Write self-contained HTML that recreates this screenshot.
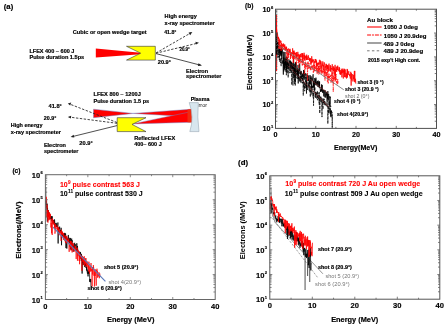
<!DOCTYPE html>
<html><head><meta charset="utf-8"><style>
html,body{margin:0;padding:0;background:#fff;width:445px;height:326px;overflow:hidden}
svg{display:block;will-change:transform}
text{font-family:"Liberation Sans",sans-serif}
</style></head><body>
<svg width="445" height="326" viewBox="0 0 445 326">
<rect width="445" height="326" fill="#fff"/>
<text x="3.8" y="9" font-size="7.5" font-weight="bold" fill="#000" text-anchor="start" textLength="9.4" lengthAdjust="spacingAndGlyphs" stroke="#000" stroke-width="0.18">(a)</text>
<polygon points="95.8,48.6 140.5,52.7 140.5,54.2 95.8,57.5" fill="#ff0000"/>
<polygon points="126.5,46.3 155.3,46.3 155.3,60.1 126.5,60.1 140.7,53.2" fill="#ffff00" stroke="#333" stroke-width="0.6"/>
<line x1="156" y1="53" x2="191" y2="32.8" stroke="#222" stroke-width="0.85" stroke-dasharray="2.4,1.5"/>
<polygon points="192.3,32.1 188.6,32.6 190.2,35.2" fill="#222"/>
<line x1="156" y1="53.2" x2="197.5" y2="43.2" stroke="#222" stroke-width="0.85" stroke-dasharray="2.4,1.5"/>
<polygon points="199,42.8 195.4,41.8 196,44.6" fill="#222"/>
<line x1="156" y1="53.6" x2="200.5" y2="65.2" stroke="#222" stroke-width="0.8"/>
<polygon points="202,65.6 198.5,63.3 197.8,66.1" fill="#222"/>
<text x="72.8" y="34.2" font-size="5.9" font-weight="bold" fill="#000" text-anchor="start" textLength="73.9" lengthAdjust="spacingAndGlyphs" stroke="#000" stroke-width="0.18">Cubic or open wedge target</text>
<text x="164.6" y="18.1" font-size="5.9" font-weight="bold" fill="#000" text-anchor="start" textLength="32.3" lengthAdjust="spacingAndGlyphs" stroke="#000" stroke-width="0.18">High energy</text>
<text x="164.6" y="24.6" font-size="5.9" font-weight="bold" fill="#000" text-anchor="start" textLength="50.1" lengthAdjust="spacingAndGlyphs" stroke="#000" stroke-width="0.18">x-ray spectrometer</text>
<text x="164.2" y="34.4" font-size="5.9" font-weight="bold" fill="#000" text-anchor="start" textLength="12.2" lengthAdjust="spacingAndGlyphs" stroke="#000" stroke-width="0.18">41.8°</text>
<text x="179.4" y="51.2" font-size="5.9" font-weight="bold" fill="#000" text-anchor="start" textLength="10.5" lengthAdjust="spacingAndGlyphs" stroke="#000" stroke-width="0.18">20.9°</text>
<text x="29.4" y="52.5" font-size="5.9" font-weight="bold" fill="#000" text-anchor="start" textLength="45" lengthAdjust="spacingAndGlyphs" stroke="#000" stroke-width="0.18">LFEX 400 ~ 600 J</text>
<text x="29.4" y="58.6" font-size="5.9" font-weight="bold" fill="#000" text-anchor="start" textLength="54.8" lengthAdjust="spacingAndGlyphs" stroke="#000" stroke-width="0.18">Pulse duration 1.5ps</text>
<text x="157.8" y="64.1" font-size="5.9" font-weight="bold" fill="#000" text-anchor="start" textLength="13.2" lengthAdjust="spacingAndGlyphs" stroke="#000" stroke-width="0.18">20.9°</text>
<text x="186.1" y="72.5" font-size="5.9" font-weight="bold" fill="#000" text-anchor="start" textLength="22" lengthAdjust="spacingAndGlyphs" stroke="#000" stroke-width="0.18">Electron</text>
<text x="186.1" y="78.4" font-size="5.9" font-weight="bold" fill="#000" text-anchor="start" textLength="35.4" lengthAdjust="spacingAndGlyphs" stroke="#000" stroke-width="0.18">spectrometer</text>
<text x="192.6" y="107" font-size="5.6" fill="#222" text-anchor="start">mirror</text>
<polygon points="93.5,109.2 133,113.4 93.5,117.7" fill="#ff0000" stroke="#6f7fc8" stroke-width="0.45"/>
<polygon points="133,113.4 190.5,109.3 190.5,116.8" fill="#ff0000" stroke="#6f7fc8" stroke-width="0.45"/>
<polygon points="132.6,123.9 190.5,111.8 190.5,122.3" fill="#ff0000" stroke="#6f7fc8" stroke-width="0.45"/>
<polygon points="187.5,109.5 191.5,109 192,122.5 187.5,122.3" fill="#f02a10"/>
<path d="M189.2,102.6 L198.3,102.6 Q197,117 199,131.6 L189.8,131.6 Q194.5,117 189.2,102.6 Z" fill="#d8e6ee" stroke="#8a9aa8" stroke-width="0.5"/>
<polygon points="117.2,117.7 146,117.7 132,124.4 146,131.6 117.2,131.6" fill="#ffff00" stroke="#333" stroke-width="0.6"/>
<line x1="117" y1="122.5" x2="69.5" y2="104" stroke="#222" stroke-width="0.85" stroke-dasharray="2.4,1.5"/>
<polygon points="67.8,103.4 71.2,102.6 70.2,105.4" fill="#222"/>
<line x1="117" y1="123.3" x2="69.5" y2="117.1" stroke="#222" stroke-width="0.85" stroke-dasharray="2.4,1.5"/>
<polygon points="67.8,116.9 71.2,115.7 70.9,118.5" fill="#222"/>
<line x1="117" y1="125.6" x2="72" y2="136.7" stroke="#222" stroke-width="0.8"/>
<polygon points="70.6,137.1 73.6,134.8 74.3,137.6" fill="#222"/>
<text x="93.5" y="96.2" font-size="5.9" font-weight="bold" fill="#000" text-anchor="start" textLength="47.3" lengthAdjust="spacingAndGlyphs" stroke="#000" stroke-width="0.18">LFEX 800 ~ 1200J</text>
<text x="93.5" y="103" font-size="5.9" font-weight="bold" fill="#000" text-anchor="start" textLength="55.7" lengthAdjust="spacingAndGlyphs" stroke="#000" stroke-width="0.18">Pulse duration 1.5 ps</text>
<text x="190.8" y="100.7" font-size="5.9" font-weight="bold" fill="#000" text-anchor="start" textLength="18.7" lengthAdjust="spacingAndGlyphs" stroke="#000" stroke-width="0.18">Plasma</text>
<text x="48.5" y="107.6" font-size="5.9" font-weight="bold" fill="#000" text-anchor="start" textLength="13.3" lengthAdjust="spacingAndGlyphs" stroke="#000" stroke-width="0.18">41.8°</text>
<text x="43.7" y="120.2" font-size="5.9" font-weight="bold" fill="#000" text-anchor="start" textLength="12.6" lengthAdjust="spacingAndGlyphs" stroke="#000" stroke-width="0.18">20.9°</text>
<text x="10.7" y="127.2" font-size="5.9" font-weight="bold" fill="#000" text-anchor="start" textLength="31.8" lengthAdjust="spacingAndGlyphs" stroke="#000" stroke-width="0.18">High energy</text>
<text x="10.7" y="133.5" font-size="5.9" font-weight="bold" fill="#000" text-anchor="start" textLength="50.3" lengthAdjust="spacingAndGlyphs" stroke="#000" stroke-width="0.18">x-ray spectrometer</text>
<text x="43.9" y="146.7" font-size="5.9" font-weight="bold" fill="#000" text-anchor="start" textLength="22.1" lengthAdjust="spacingAndGlyphs" stroke="#000" stroke-width="0.18">Electron</text>
<text x="43.9" y="152.5" font-size="5.9" font-weight="bold" fill="#000" text-anchor="start" textLength="34.6" lengthAdjust="spacingAndGlyphs" stroke="#000" stroke-width="0.18">spectrometer</text>
<text x="79.3" y="145.4" font-size="5.9" font-weight="bold" fill="#000" text-anchor="start" textLength="13.4" lengthAdjust="spacingAndGlyphs" stroke="#000" stroke-width="0.18">20.9°</text>
<text x="134.2" y="139.7" font-size="5.9" font-weight="bold" fill="#000" text-anchor="start" textLength="41" lengthAdjust="spacingAndGlyphs" stroke="#000" stroke-width="0.18">Reflected LFEX</text>
<text x="134.2" y="146.2" font-size="5.9" font-weight="bold" fill="#000" text-anchor="start" textLength="27.5" lengthAdjust="spacingAndGlyphs" stroke="#000" stroke-width="0.18">400~ 600 J</text>
<text x="245" y="8.3" font-size="7.3" font-weight="bold" fill="#000" text-anchor="start" textLength="8.4" lengthAdjust="spacingAndGlyphs" stroke="#000" stroke-width="0.18">(b)</text>
<line x1="276.6" y1="14.921600000000012" x2="276.6" y2="71.184" stroke="#ff0000" stroke-width="1"/>
<polyline points="275.90,44.83 276.10,44.71 276.31,44.47 276.51,47.26 276.71,49.52 276.91,52.50 277.11,50.21 277.31,50.17 277.51,49.38 277.71,57.58 277.92,54.82 278.12,49.75 278.32,53.42 278.52,55.86 278.72,57.48 278.92,56.20 279.12,51.01 279.32,59.77 279.52,54.47 279.73,60.64 279.93,62.23 280.13,59.54 280.33,58.15 280.53,62.70 280.73,61.68 280.93,61.89 281.13,66.14 281.34,51.57 281.54,59.35 281.74,56.62 281.94,61.05 282.14,63.90 282.34,60.47 282.54,60.88 282.75,63.43 282.95,63.41 283.15,62.97 283.35,62.03 283.55,57.60 283.75,71.56 283.95,57.57 284.15,64.12 284.36,67.32 284.56,67.27 284.76,65.10 284.96,63.13 285.16,70.48 285.36,63.70 285.56,65.92 285.76,62.48 285.96,71.78 286.17,63.82 286.37,75.20 286.57,66.73 286.77,63.75 286.97,65.54 287.17,73.43 287.37,60.92 287.57,66.77 287.78,65.78 287.98,61.93 288.18,77.55 288.38,66.71 288.58,64.89 288.78,66.57 288.98,66.62 289.19,64.46 289.39,67.98 289.59,66.69 289.79,73.15 289.99,66.86 290.19,62.47 290.39,71.13 290.59,65.10 290.79,67.67 291.00,72.86 291.20,70.38 291.40,62.80 291.60,62.18 291.80,84.94 292.00,64.69 292.20,64.70 292.40,68.57 292.61,67.13 292.81,82.76 293.01,85.43 293.21,67.33 293.41,67.98 293.61,77.99 293.81,74.13 294.01,75.51 294.22,66.82 294.42,83.87 294.62,73.05 294.82,70.32 295.02,76.51 295.22,85.86 295.42,77.46 295.62,70.57 295.83,72.13 296.03,75.16 296.23,72.41 296.43,73.44 296.63,74.04 296.83,78.39 297.03,75.55 297.23,69.65 297.44,73.08 297.64,74.21 297.84,78.86 298.04,74.92 298.24,77.85 298.44,78.72 298.64,73.58 298.84,74.39 299.05,77.17 299.25,78.23 299.45,81.15 299.65,76.18 299.85,80.45 300.05,81.53 300.25,81.81 300.45,75.72 300.66,80.70 300.86,75.43 301.06,83.34 301.26,76.14 301.46,75.60 301.66,79.06 301.86,79.18 302.06,77.41 302.27,74.54 302.47,83.30 302.67,77.47 302.87,79.37 303.07,82.13 303.27,95.61 303.47,81.15 303.67,80.22 303.88,87.53 304.08,85.53 304.28,84.44 304.48,82.29 304.68,91.16 304.88,85.55 305.08,88.01 305.28,85.96 305.49,77.13 305.69,80.20 305.89,87.18 306.09,86.49 306.29,80.82 306.49,87.42 306.69,83.25 306.89,85.73 307.10,85.24 307.30,87.20 307.50,89.93 307.70,87.41 307.90,87.59 308.10,79.59 308.30,87.28 308.50,84.94 308.71,85.86 308.91,83.17 309.11,90.93 309.31,90.07 309.51,80.81 309.71,89.84 309.91,91.93 310.11,90.40 310.32,96.87 310.52,88.22 310.72,88.46 310.92,85.71 311.12,92.70 311.32,83.76 311.52,91.92 311.72,91.98 311.93,95.12 312.13,87.28 312.33,85.94 312.53,87.96 312.73,85.78 312.93,94.03 313.13,97.30 313.33,92.55 313.54,105.68 313.74,91.26 313.94,91.02 314.14,92.26 314.34,89.00 314.54,90.82 314.74,88.00 314.95,87.11 315.15,97.19 315.35,91.86 315.55,97.70 315.75,92.09 315.95,95.94 316.15,95.44 316.35,95.46 316.56,92.30 316.76,98.92 316.96,97.56 317.16,97.77 317.36,90.95 317.56,100.18 317.76,99.39 317.96,98.91 318.17,92.52 318.37,94.60 318.57,99.12 318.77,98.76 318.97,96.28 319.17,104.46 319.37,92.27 319.57,111.82 319.78,113.28 319.98,110.99 320.18,97.04 320.38,96.73 320.58,98.20 320.78,101.84 320.98,96.53 321.18,99.18 321.39,98.37 321.59,102.25 321.79,101.41 321.99,117.09 322.19,98.62 322.39,102.12 322.59,105.43 322.79,105.77 323.00,109.12 323.20,98.21 323.40,100.72 323.60,103.20 323.80,100.71 324.00,102.95 324.20,98.80 324.40,105.11 324.61,101.31 324.81,101.81 325.01,102.72 325.21,102.10 325.41,101.76 325.61,105.00 325.81,103.73 326.01,105.66 326.22,105.34 326.42,106.13 326.62,105.41 326.82,105.06 327.02,101.86 327.22,106.74 327.42,105.49 327.62,104.82 327.83,123.79 328.03,115.16 328.23,110.58 328.43,113.18 328.63,106.04 328.83,105.99 329.03,112.34 329.23,105.48 329.44,107.99 329.64,109.65 329.84,112.24 330.04,111.68 330.24,114.30 330.44,107.79 330.64,116.88 330.84,111.61 331.05,110.21 331.25,117.33 331.45,110.64 331.65,112.87 331.85,111.97 332.05,111.93 332.25,128.42 332.45,114.39" fill="none" stroke="#000" stroke-width="0.7" stroke-dasharray="3,0.8"/>
<polyline points="275.90,39.74 276.10,36.68 276.31,54.62 276.51,42.39 276.71,41.09 276.91,32.72 277.11,48.06 277.31,43.83 277.51,42.73 277.71,48.85 277.92,42.06 278.12,45.28 278.32,41.69 278.52,47.04 278.72,45.15 278.92,52.54 279.12,48.56 279.32,53.27 279.52,49.16 279.73,50.03 279.93,55.46 280.13,50.12 280.33,54.30 280.53,50.54 280.73,48.88 280.93,55.71 281.13,48.74 281.34,53.93 281.54,47.42 281.74,55.76 281.94,53.17 282.14,49.22 282.34,49.60 282.54,53.15 282.75,54.82 282.95,59.15 283.15,66.32 283.35,74.61 283.55,60.16 283.75,51.77 283.95,65.48 284.15,64.65 284.36,61.84 284.56,69.30 284.76,61.95 284.96,52.00 285.16,63.03 285.36,58.63 285.56,63.74 285.76,61.45 285.96,64.54 286.17,58.14 286.37,56.65 286.57,69.79 286.77,61.25 286.97,61.17 287.17,56.98 287.37,59.59 287.57,64.28 287.78,62.99 287.98,65.26 288.18,68.97 288.38,64.29 288.58,63.68 288.78,65.18 288.98,59.45 289.19,62.57 289.39,63.55 289.59,63.81 289.79,61.12 289.99,62.05 290.19,60.43 290.39,64.87 290.59,61.30 290.79,62.82 291.00,65.63 291.20,61.76 291.40,66.72 291.60,66.62 291.80,65.17 292.00,63.95 292.20,62.84 292.40,64.30 292.61,68.13 292.81,64.95 293.01,68.15 293.21,68.73 293.41,64.57 293.61,58.85 293.81,66.22 294.01,73.55 294.22,63.72 294.42,67.09 294.62,72.99 294.82,67.94 295.02,75.05 295.22,82.27 295.42,62.25 295.62,62.05 295.83,71.11 296.03,63.13 296.23,67.98 296.43,70.53 296.63,71.96 296.83,71.05 297.03,70.89 297.23,74.58 297.44,68.61 297.64,75.12 297.84,70.94 298.04,64.93 298.24,83.45 298.44,69.56 298.64,71.12 298.84,73.73 299.05,71.25 299.25,69.82 299.45,71.01 299.65,63.54 299.85,67.84 300.05,74.20 300.25,71.70 300.45,74.31 300.66,75.26 300.86,72.89 301.06,70.89 301.26,73.38 301.46,71.75 301.66,77.06 301.86,76.24 302.06,75.45 302.27,75.55 302.47,74.35 302.67,76.66 302.87,73.61 303.07,78.87 303.27,79.74 303.47,71.34 303.67,69.97 303.88,77.80 304.08,70.62 304.28,70.87 304.48,73.79 304.68,79.59 304.88,78.16 305.08,72.98 305.28,74.33 305.49,75.42 305.69,75.66 305.89,75.50 306.09,73.69 306.29,80.28 306.49,93.55 306.69,79.39 306.89,77.23 307.10,78.50 307.30,74.68 307.50,76.35 307.70,77.44 307.90,75.75 308.10,77.79 308.30,81.12 308.50,80.08 308.71,75.73 308.91,75.34 309.11,79.19 309.31,80.70 309.51,83.82 309.71,83.56 309.91,78.84 310.11,75.21 310.32,76.69 310.52,84.39 310.72,78.20 310.92,78.79 311.12,76.34 311.32,83.18 311.52,87.72 311.72,85.91 311.93,77.72 312.13,80.88 312.33,80.51 312.53,79.94 312.73,78.88 312.93,75.70 313.13,74.28 313.33,87.67 313.54,80.89 313.74,87.13 313.94,81.78 314.14,83.32 314.34,90.49 314.54,82.34 314.74,78.05 314.95,81.70 315.15,85.09 315.35,81.54 315.55,79.08 315.75,83.90 315.95,77.65 316.15,84.17 316.35,85.45 316.56,85.05 316.76,81.63 316.96,81.80 317.16,84.62 317.36,83.87 317.56,81.06 317.76,86.69 317.96,85.77 318.17,80.57 318.37,81.43 318.57,82.99 318.77,87.02 318.97,87.40 319.17,81.77 319.37,86.89 319.57,81.36 319.78,88.16 319.98,87.25 320.18,88.07 320.38,91.94 320.58,90.26 320.78,91.29 320.98,88.95 321.18,89.60 321.39,90.94 321.59,84.43 321.79,91.03 321.99,91.94 322.19,84.96 322.39,87.61 322.59,90.08 322.79,93.04 323.00,89.71 323.20,91.23 323.40,90.46 323.60,93.91 323.80,96.41 324.00,92.87 324.20,89.85 324.40,90.36 324.61,91.28 324.81,97.32 325.01,97.07 325.21,90.36 325.41,94.64 325.61,94.41 325.81,97.68 326.01,94.69 326.22,94.11 326.42,95.29 326.62,91.91 326.82,96.03 327.02,101.03 327.22,101.96 327.42,93.62 327.62,98.91 327.83,91.12 328.03,96.62 328.23,100.38 328.43,97.76 328.63,93.96 328.83,96.94 329.03,105.23 329.23,101.49 329.44,105.66 329.64,103.22 329.84,96.09 330.04,98.13 330.24,97.11 330.44,104.30 330.64,106.99 330.84,105.94" fill="none" stroke="#000" stroke-width="0.75"/>
<line x1="284.999" y1="59.74080000000001" x2="327.825" y2="93.11680000000001" stroke="#a02828" stroke-width="0.5"/>
<line x1="287.9775" y1="65.70080000000002" x2="328.63" y2="106.7056" stroke="#a02828" stroke-width="0.5"/>
<polyline points="275.90,20.13 276.10,26.85 276.31,27.06 276.51,32.70 276.71,34.62 276.91,35.03 277.11,35.87 277.31,34.65 277.51,34.25 277.71,37.35 277.92,37.16 278.12,38.18 278.32,41.33 278.52,37.55 278.72,40.46 278.92,40.90 279.12,47.57 279.32,43.09 279.52,41.30 279.73,45.94 279.93,44.74 280.13,47.90 280.33,44.42 280.53,45.73 280.73,47.58 280.93,45.40 281.13,49.06 281.34,46.24 281.54,44.96 281.74,47.65 281.94,47.08 282.14,48.81 282.34,47.44 282.54,48.25 282.75,46.29 282.95,48.43 283.15,49.86 283.35,48.09 283.55,48.65 283.75,47.34 283.95,49.06 284.15,49.23 284.36,48.02 284.56,49.73 284.76,50.09 284.96,50.61 285.16,48.03 285.36,48.56 285.56,49.16 285.76,46.75 285.96,48.78 286.17,50.25 286.37,58.70 286.57,55.97 286.77,50.72 286.97,52.26 287.17,51.88 287.37,51.32 287.57,50.25 287.78,51.65 287.98,60.02 288.18,51.32 288.38,52.82 288.58,56.66 288.78,53.50 288.98,55.10 289.19,53.64 289.39,52.69 289.59,51.95 289.79,52.07 289.99,51.10 290.19,50.43 290.39,54.59 290.59,54.23 290.79,54.07 291.00,54.49 291.20,56.28 291.40,56.61 291.60,53.66 291.80,55.22 292.00,57.55 292.20,56.89 292.40,55.64 292.61,58.76 292.81,56.60 293.01,55.42 293.21,55.06 293.41,55.46 293.61,58.50 293.81,56.73 294.01,55.57 294.22,52.50 294.42,59.01 294.62,55.99 294.82,59.21 295.02,56.01 295.22,56.72 295.42,59.30 295.62,58.89 295.83,58.80 296.03,54.78 296.23,57.61 296.43,65.53 296.63,60.83 296.83,59.77 297.03,58.37 297.23,59.05 297.44,56.79 297.64,58.83 297.84,60.37 298.04,62.55 298.24,58.45 298.44,58.76 298.64,58.92 298.84,67.54 299.05,60.59 299.25,60.31 299.45,62.50 299.65,59.64 299.85,61.91 300.05,56.67 300.25,61.64 300.45,61.12 300.66,59.28 300.86,63.88 301.06,59.60 301.26,60.77 301.46,62.20 301.66,60.05 301.86,59.73 302.06,56.43 302.27,65.88 302.47,62.41 302.67,60.52 302.87,64.73 303.07,61.30 303.27,58.86 303.47,63.76 303.67,63.09 303.88,64.55 304.08,63.64 304.28,65.32 304.48,64.37 304.68,74.37 304.88,62.41 305.08,64.58 305.28,66.70 305.49,61.74 305.69,69.74 305.89,62.96 306.09,66.24 306.29,67.51 306.49,66.01 306.69,66.03 306.89,64.72 307.10,64.85 307.30,62.12 307.50,80.84 307.70,65.29 307.90,68.21 308.10,61.51 308.30,62.56 308.50,65.38 308.71,68.57 308.91,63.30 309.11,63.01 309.31,68.15 309.51,66.86 309.71,65.68 309.91,65.87 310.11,68.29 310.32,69.61 310.52,67.24 310.72,70.20 310.92,66.40 311.12,68.08 311.32,69.72 311.52,64.62 311.72,65.85 311.93,65.81 312.13,67.13 312.33,66.78 312.53,69.33 312.73,64.98 312.93,65.93 313.13,69.11 313.33,73.12 313.54,69.08 313.74,69.05 313.94,64.42 314.14,71.87 314.34,65.03 314.54,70.68 314.74,66.29 314.95,69.95 315.15,70.12 315.35,68.37 315.55,66.61 315.75,67.73 315.95,71.22 316.15,66.40 316.35,67.70 316.56,70.62 316.76,63.82 316.96,73.25 317.16,74.15 317.36,69.38 317.56,67.87 317.76,72.65 317.96,66.02 318.17,71.70 318.37,71.99 318.57,65.59 318.77,74.42 318.97,65.98 319.17,71.74 319.37,66.21 319.57,72.30 319.78,73.52 319.98,73.53 320.18,67.61 320.38,64.68 320.58,69.55 320.78,72.14 320.98,68.58 321.18,70.76 321.39,67.80 321.59,74.56 321.79,71.04 321.99,66.27 322.19,72.70 322.39,72.98 322.59,70.55 322.79,71.05 323.00,73.91 323.20,71.07 323.40,71.95 323.60,68.37 323.80,72.26 324.00,73.50 324.20,77.10 324.40,70.56 324.61,71.32 324.81,75.08 325.01,80.88 325.21,66.97 325.41,75.08 325.61,75.07 325.81,76.53 326.01,75.46 326.22,71.91 326.42,76.48 326.62,72.52 326.82,73.57 327.02,69.96 327.22,75.90 327.42,81.89 327.62,69.40 327.83,73.72 328.03,73.12 328.23,83.79 328.43,75.60 328.63,78.75 328.83,74.59 329.03,73.27 329.23,74.50 329.44,79.89 329.64,76.12 329.84,77.18 330.04,75.59 330.24,75.54 330.44,74.91 330.64,80.34 330.84,80.33 331.05,83.06 331.25,76.62 331.45,74.63 331.65,80.48 331.85,77.60 332.05,73.59 332.25,75.17 332.45,82.39 332.66,78.20 332.86,71.96 333.06,78.68 333.26,92.07 333.46,76.87 333.66,75.61 333.86,81.37 334.06,81.50 334.27,72.70 334.47,76.40 334.67,78.85 334.87,78.74 335.07,80.97 335.27,81.66 335.47,72.13 335.67,80.18 335.88,77.99 336.08,74.01 336.28,76.70 336.48,82.84 336.68,81.38 336.88,84.54 337.08,82.08 337.28,84.10 337.49,83.94 337.69,78.69 337.89,80.56 338.09,83.82" fill="none" stroke="#ff0000" stroke-width="0.7" stroke-dasharray="2.5,1,1,1"/>
<polyline points="275.90,19.42 276.10,22.77 276.31,27.82 276.51,27.99 276.71,29.43 276.91,31.19 277.11,33.03 277.31,33.72 277.51,33.79 277.71,36.44 277.92,38.57 278.12,36.86 278.32,36.91 278.52,37.05 278.72,38.83 278.92,38.38 279.12,48.89 279.32,39.30 279.52,40.76 279.73,41.50 279.93,40.45 280.13,40.76 280.33,40.52 280.53,42.77 280.73,43.08 280.93,40.88 281.13,50.85 281.34,43.30 281.54,44.28 281.74,43.30 281.94,44.69 282.14,45.58 282.34,44.24 282.54,46.62 282.75,44.65 282.95,45.27 283.15,46.89 283.35,46.73 283.55,43.55 283.75,46.62 283.95,46.29 284.15,44.83 284.36,48.02 284.56,46.70 284.76,44.46 284.96,47.25 285.16,47.69 285.36,50.55 285.56,48.35 285.76,47.80 285.96,47.62 286.17,46.58 286.37,49.68 286.57,47.08 286.77,49.26 286.97,48.96 287.17,52.02 287.37,51.04 287.57,49.07 287.78,50.90 287.98,58.03 288.18,49.94 288.38,48.47 288.58,48.96 288.78,49.51 288.98,49.05 289.19,51.39 289.39,52.92 289.59,49.64 289.79,51.22 289.99,48.81 290.19,49.41 290.39,59.14 290.59,53.84 290.79,52.18 291.00,53.06 291.20,53.32 291.40,52.58 291.60,53.55 291.80,52.54 292.00,53.86 292.20,53.29 292.40,54.05 292.61,48.33 292.81,51.87 293.01,54.11 293.21,63.14 293.41,61.08 293.61,50.91 293.81,53.82 294.01,50.57 294.22,53.90 294.42,54.23 294.62,52.60 294.82,53.40 295.02,52.97 295.22,55.50 295.42,53.95 295.62,52.81 295.83,53.98 296.03,53.86 296.23,55.96 296.43,52.11 296.63,58.17 296.83,55.39 297.03,56.64 297.23,54.85 297.44,55.60 297.64,54.16 297.84,51.85 298.04,56.25 298.24,53.87 298.44,59.03 298.64,58.24 298.84,61.39 299.05,55.78 299.25,54.72 299.45,59.23 299.65,55.38 299.85,57.71 300.05,54.58 300.25,55.24 300.45,54.13 300.66,57.15 300.86,56.08 301.06,56.59 301.26,53.27 301.46,53.70 301.66,54.44 301.86,56.77 302.06,56.51 302.27,53.43 302.47,60.73 302.67,53.18 302.87,57.04 303.07,54.74 303.27,56.86 303.47,57.15 303.67,59.15 303.88,58.66 304.08,52.76 304.28,60.38 304.48,56.98 304.68,54.85 304.88,58.93 305.08,60.70 305.28,58.47 305.49,56.50 305.69,55.77 305.89,58.38 306.09,56.24 306.29,59.06 306.49,60.05 306.69,54.65 306.89,59.88 307.10,56.27 307.30,58.66 307.50,58.31 307.70,59.61 307.90,59.17 308.10,59.96 308.30,55.31 308.50,57.67 308.71,57.07 308.91,57.99 309.11,59.79 309.31,58.59 309.51,61.27 309.71,57.97 309.91,60.57 310.11,59.26 310.32,60.11 310.52,58.25 310.72,64.56 310.92,60.53 311.12,61.38 311.32,60.87 311.52,63.49 311.72,56.24 311.93,61.28 312.13,58.90 312.33,62.49 312.53,60.55 312.73,60.08 312.93,61.41 313.13,61.08 313.33,59.52 313.54,59.58 313.74,63.53 313.94,66.40 314.14,64.44 314.34,61.14 314.54,61.39 314.74,62.98 314.95,60.93 315.15,58.97 315.35,59.79 315.55,62.45 315.75,59.01 315.95,60.40 316.15,61.21 316.35,66.72 316.56,60.49 316.76,63.79 316.96,65.91 317.16,64.71 317.36,63.46 317.56,62.82 317.76,65.95 317.96,64.04 318.17,62.83 318.37,64.69 318.57,62.66 318.77,63.38 318.97,64.13 319.17,64.30 319.37,60.24 319.57,59.80 319.78,64.03 319.98,65.89 320.18,66.75 320.38,60.48 320.58,64.22 320.78,62.57 320.98,61.33 321.18,61.61 321.39,64.59 321.59,67.98 321.79,64.74 321.99,64.16 322.19,63.58 322.39,66.07 322.59,65.17 322.79,61.40 323.00,63.69 323.20,69.53 323.40,70.18 323.60,64.91 323.80,66.89 324.00,63.99 324.20,62.33 324.40,62.69 324.61,65.24 324.81,72.89 325.01,67.98 325.21,67.01 325.41,66.18 325.61,66.16 325.81,67.11 326.01,63.75 326.22,70.18 326.42,66.22 326.62,64.32 326.82,66.49 327.02,65.07 327.22,69.50 327.42,65.34 327.62,69.19 327.83,67.44 328.03,65.38 328.23,67.15 328.43,66.90 328.63,71.63 328.83,64.16 329.03,63.63 329.23,70.07 329.44,69.94 329.64,70.55 329.84,70.23 330.04,70.45 330.24,64.98 330.44,71.64 330.64,69.08 330.84,66.10 331.05,69.48 331.25,68.45 331.45,68.91 331.65,67.97 331.85,70.54 332.05,74.23 332.25,64.26 332.45,69.85 332.66,70.01 332.86,69.73 333.06,68.74 333.26,67.56 333.46,71.05 333.66,66.29 333.86,71.47 334.06,72.67 334.27,70.62 334.47,70.41 334.67,67.71 334.87,74.84 335.07,64.85 335.27,79.44 335.47,71.27 335.67,71.30 335.88,69.20 336.08,71.56 336.28,66.66 336.48,70.41 336.68,71.76 336.88,71.47 337.08,67.11 337.28,66.64 337.49,70.03 337.69,65.68 337.89,68.13 338.09,68.71 338.29,70.26 338.49,69.81 338.69,70.66 338.89,70.13 339.10,66.95 339.30,72.01 339.50,67.75 339.70,68.11 339.90,74.29 340.10,71.33 340.30,70.06 340.50,74.66 340.71,72.28 340.91,74.43 341.11,70.91 341.31,71.97 341.51,73.30 341.71,69.37 341.91,77.33 342.11,68.54 342.32,71.90 342.52,72.73 342.72,69.70 342.92,71.56 343.12,74.14 343.32,78.52 343.52,70.47 343.72,72.30 343.93,68.65 344.13,72.37 344.33,70.60 344.53,77.14 344.73,68.96 344.93,74.34 345.13,69.68 345.33,75.34 345.54,77.33 345.74,75.26 345.94,75.74 346.14,72.90 346.34,76.74 346.54,78.50 346.74,74.24 346.94,76.81 347.15,68.93 347.35,77.64 347.55,69.66 347.75,71.50 347.95,73.88 348.15,74.98 348.35,72.72 348.55,72.71 348.76,71.23 348.96,74.63 349.16,74.59 349.36,74.98 349.56,76.18 349.76,74.00 349.96,73.96 350.16,77.99 350.37,78.63 350.57,76.99 350.77,71.81 350.97,77.32 351.17,85.61 351.37,73.16 351.57,77.64 351.77,80.43 351.98,77.07 352.18,74.76 352.38,74.21 352.58,75.06 352.78,74.98 352.98,81.51 353.18,78.90 353.38,74.79 353.59,79.18 353.79,77.68 353.99,78.05 354.19,76.40 354.39,70.95 354.59,81.80 354.79,70.90 354.99,81.40 355.20,82.43 355.40,78.74 355.60,79.82 355.80,83.72" fill="none" stroke="#ff0000" stroke-width="0.75"/>
<polyline points="276.8,44.2 279.9,46.3 343.8,89.8" fill="none" stroke="#707070" stroke-width="0.8"/>
<rect x="275.5" y="9.2" width="161.0" height="119.2" fill="none" stroke="#505050" stroke-width="1"/>
<path d="M275.5,121.22h1.8M436.5,121.22h-1.8M275.5,117.03h1.8M436.5,117.03h-1.8M275.5,114.05h1.8M436.5,114.05h-1.8M275.5,111.74h1.8M436.5,111.74h-1.8M275.5,109.85h1.8M436.5,109.85h-1.8M275.5,108.25h1.8M436.5,108.25h-1.8M275.5,106.87h1.8M436.5,106.87h-1.8M275.5,105.65h1.8M436.5,105.65h-1.8M275.5,97.38h1.8M436.5,97.38h-1.8M275.5,93.19h1.8M436.5,93.19h-1.8M275.5,90.21h1.8M436.5,90.21h-1.8M275.5,87.90h1.8M436.5,87.90h-1.8M275.5,86.01h1.8M436.5,86.01h-1.8M275.5,84.41h1.8M436.5,84.41h-1.8M275.5,83.03h1.8M436.5,83.03h-1.8M275.5,81.81h1.8M436.5,81.81h-1.8M275.5,73.54h1.8M436.5,73.54h-1.8M275.5,69.35h1.8M436.5,69.35h-1.8M275.5,66.37h1.8M436.5,66.37h-1.8M275.5,64.06h1.8M436.5,64.06h-1.8M275.5,62.17h1.8M436.5,62.17h-1.8M275.5,60.57h1.8M436.5,60.57h-1.8M275.5,59.19h1.8M436.5,59.19h-1.8M275.5,57.97h1.8M436.5,57.97h-1.8M275.5,49.70h1.8M436.5,49.70h-1.8M275.5,45.51h1.8M436.5,45.51h-1.8M275.5,42.53h1.8M436.5,42.53h-1.8M275.5,40.22h1.8M436.5,40.22h-1.8M275.5,38.33h1.8M436.5,38.33h-1.8M275.5,36.73h1.8M436.5,36.73h-1.8M275.5,35.35h1.8M436.5,35.35h-1.8M275.5,34.13h1.8M436.5,34.13h-1.8M275.5,25.86h1.8M436.5,25.86h-1.8M275.5,21.67h1.8M436.5,21.67h-1.8M275.5,18.69h1.8M436.5,18.69h-1.8M275.5,16.38h1.8M436.5,16.38h-1.8M275.5,14.49h1.8M436.5,14.49h-1.8M275.5,12.89h1.8M436.5,12.89h-1.8M275.5,11.51h1.8M436.5,11.51h-1.8M275.5,10.29h1.8M436.5,10.29h-1.8M275.5,104.56h2.5M436.5,104.56h-2.5M275.5,80.72h2.5M436.5,80.72h-2.5M275.5,56.88h2.5M436.5,56.88h-2.5M275.5,33.04h2.5M436.5,33.04h-2.5M295.62,128.4v-1.5M295.62,9.2v1.5M315.75,128.4v-2.5M315.75,9.2v2.5M335.88,128.4v-1.5M335.88,9.2v1.5M356.00,128.4v-2.5M356.00,9.2v2.5M376.12,128.4v-1.5M376.12,9.2v1.5M396.25,128.4v-2.5M396.25,9.2v2.5M416.38,128.4v-1.5M416.38,9.2v1.5" stroke="#505050" stroke-width="0.75" fill="none"/>
<text x="273.2" y="131.28" font-size="7.2" font-weight="bold" text-anchor="end" stroke="#000" stroke-width="0.15">10<tspan font-size="4.1" dx="0.3" dy="-3.4">1</tspan></text>
<text x="273.2" y="107.44" font-size="7.2" font-weight="bold" text-anchor="end" stroke="#000" stroke-width="0.15">10<tspan font-size="4.1" dx="0.3" dy="-3.4">2</tspan></text>
<text x="273.2" y="83.60" font-size="7.2" font-weight="bold" text-anchor="end" stroke="#000" stroke-width="0.15">10<tspan font-size="4.1" dx="0.3" dy="-3.4">3</tspan></text>
<text x="273.2" y="59.76" font-size="7.2" font-weight="bold" text-anchor="end" stroke="#000" stroke-width="0.15">10<tspan font-size="4.1" dx="0.3" dy="-3.4">4</tspan></text>
<text x="273.2" y="35.92" font-size="7.2" font-weight="bold" text-anchor="end" stroke="#000" stroke-width="0.15">10<tspan font-size="4.1" dx="0.3" dy="-3.4">5</tspan></text>
<text x="273.2" y="12.08" font-size="7.2" font-weight="bold" text-anchor="end" stroke="#000" stroke-width="0.15">10<tspan font-size="4.1" dx="0.3" dy="-3.4">6</tspan></text>
<text x="275.50" y="136.90" font-size="7.2" font-weight="bold" text-anchor="middle" stroke="#000" stroke-width="0.15">0</text>
<text x="315.75" y="136.90" font-size="7.2" font-weight="bold" text-anchor="middle" stroke="#000" stroke-width="0.15">10</text>
<text x="356.00" y="136.90" font-size="7.2" font-weight="bold" text-anchor="middle" stroke="#000" stroke-width="0.15">20</text>
<text x="396.25" y="136.90" font-size="7.2" font-weight="bold" text-anchor="middle" stroke="#000" stroke-width="0.15">30</text>
<text x="436.50" y="136.90" font-size="7.2" font-weight="bold" text-anchor="middle" stroke="#000" stroke-width="0.15">40</text>
<text x="334.1" y="150.2" font-size="7" font-weight="bold" fill="#000" text-anchor="start" textLength="43.2" lengthAdjust="spacingAndGlyphs" stroke="#000" stroke-width="0.18">Energy(MeV)</text>
<text transform="translate(252.4,90) rotate(-90)" font-size="7" font-weight="bold" stroke="#000" stroke-width="0.15" textLength="55.3" lengthAdjust="spacingAndGlyphs">Electrons (/MeV)</text>
<text x="367.1" y="21.5" font-size="6.2" font-weight="bold" fill="#000" text-anchor="start" textLength="25.8" lengthAdjust="spacingAndGlyphs" stroke="#000" stroke-width="0.18">Au block</text>
<line x1="367.1" y1="27" x2="381.6" y2="27" stroke="#ff0000" stroke-width="1.1"/>
<line x1="367.1" y1="35" x2="381.6" y2="35" stroke="#ff0000" stroke-width="1" stroke-dasharray="4,1,1.8,1"/>
<line x1="367.1" y1="43" x2="381.6" y2="43" stroke="#555" stroke-width="1.1"/>
<line x1="367.1" y1="50.8" x2="381.6" y2="50.8" stroke="#777" stroke-width="1" stroke-dasharray="2.5,2.3"/>
<text x="383.8" y="29.4" font-size="6" font-weight="bold" fill="#000" text-anchor="start" textLength="34" lengthAdjust="spacingAndGlyphs" stroke="#000" stroke-width="0.18">1050 J 0deg</text>
<text x="383.8" y="37.5" font-size="6" font-weight="bold" fill="#000" text-anchor="start" textLength="42.7" lengthAdjust="spacingAndGlyphs" stroke="#000" stroke-width="0.18">1050 J 20.9deg</text>
<text x="383.5" y="45.6" font-size="6" font-weight="bold" fill="#000" text-anchor="start" textLength="30.9" lengthAdjust="spacingAndGlyphs" stroke="#000" stroke-width="0.18">489 J 0deg</text>
<text x="383.5" y="53.3" font-size="6" font-weight="bold" fill="#000" text-anchor="start" textLength="39.6" lengthAdjust="spacingAndGlyphs" stroke="#000" stroke-width="0.18">489 J 20.9deg</text>
<text x="368" y="62.3" font-size="5.3" font-weight="bold" fill="#000" text-anchor="start" textLength="52.3" lengthAdjust="spacingAndGlyphs" stroke="#000" stroke-width="0.18">2015 exp't High cont.</text>
<text x="357.4" y="83.6" font-size="5.2" font-weight="bold" fill="#000" text-anchor="start" textLength="26.2" lengthAdjust="spacingAndGlyphs" stroke="#000" stroke-width="0.18">shot 3 (0 °)</text>
<text x="345" y="90.8" font-size="5.2" font-weight="bold" fill="#000" text-anchor="start" textLength="33.8" lengthAdjust="spacingAndGlyphs" stroke="#000" stroke-width="0.18">shot 3 (20.9 °)</text>
<text x="345" y="97.8" font-size="5.2" fill="#666" text-anchor="start" textLength="24.4" lengthAdjust="spacingAndGlyphs">shot 2 (0°)</text>
<text x="334" y="103.2" font-size="5.2" font-weight="bold" fill="#000" text-anchor="start" textLength="26.5" lengthAdjust="spacingAndGlyphs" stroke="#000" stroke-width="0.18">shot 4 (0 °)</text>
<text x="337.1" y="115.8" font-size="5.2" font-weight="bold" fill="#000" text-anchor="start" textLength="31.2" lengthAdjust="spacingAndGlyphs" stroke="#000" stroke-width="0.18">shot 4(20.9°)</text>
<text x="12.4" y="173.4" font-size="7.3" font-weight="bold" fill="#000" text-anchor="start" textLength="8.1" lengthAdjust="spacingAndGlyphs" stroke="#000" stroke-width="0.18">(c)</text>
<line x1="46" y1="187.5" x2="46" y2="199" stroke="#888" stroke-width="1"/>
<line x1="46.248999999999995" y1="198.412" x2="46.248999999999995" y2="217.132" stroke="#ff0000" stroke-width="0.8"/>
<polyline points="45.82,203.66 46.04,200.68 46.25,205.14 46.46,202.93 46.67,206.14 46.89,208.18 47.10,203.70 47.31,221.61 47.52,207.70 47.73,212.07 47.95,215.96 48.16,212.01 48.37,210.26 48.58,212.71 48.80,216.83 49.01,214.48 49.22,216.30 49.43,214.53 49.64,213.58 49.86,218.90 50.07,216.59 50.28,215.91 50.49,215.83 50.71,219.27 50.92,216.26 51.13,218.15 51.34,216.27 51.56,219.15 51.77,218.91 51.98,221.33 52.19,216.25 52.40,221.14 52.62,220.01 52.83,220.53 53.04,223.63 53.25,222.60 53.47,219.87 53.68,220.05 53.89,222.36 54.10,221.40 54.31,225.04 54.53,219.44 54.74,222.23 54.95,227.10 55.16,224.40 55.38,223.33 55.59,225.50 55.80,224.63 56.01,225.56 56.22,222.88 56.44,223.64 56.65,227.02 56.86,226.06 57.07,225.63 57.29,227.03 57.50,225.81 57.71,225.68 57.92,222.52 58.13,243.47 58.35,227.66 58.56,228.87 58.77,230.27 58.98,229.21 59.20,227.71 59.41,228.89 59.62,226.65 59.83,230.67 60.05,232.70 60.26,230.92 60.47,230.13 60.68,231.70 60.89,231.37 61.11,227.81 61.32,231.70 61.53,245.22 61.74,231.28 61.96,231.51 62.17,232.30 62.38,232.66 62.59,234.59 62.80,236.38 63.02,234.14 63.23,234.46 63.44,237.36 63.65,235.67 63.87,238.42 64.08,233.08 64.29,238.77 64.50,236.85 64.71,232.88 64.93,239.66 65.14,240.80 65.35,238.38 65.56,233.46 65.78,235.56 65.99,248.09 66.20,238.15 66.41,236.58 66.62,240.82 66.84,248.58 67.05,238.15 67.26,239.09 67.47,239.27 67.69,240.26 67.90,239.21 68.11,239.98 68.32,234.96 68.54,241.55 68.75,239.90 68.96,238.54 69.17,237.83 69.38,243.01 69.60,239.17 69.81,238.46 70.02,243.54 70.23,239.46 70.45,237.94 70.66,246.96 70.87,249.39 71.08,241.14 71.29,250.07 71.51,238.81 71.72,238.58 71.93,242.34 72.14,240.21 72.36,242.56 72.57,246.01 72.78,247.33 72.99,243.39 73.20,251.72 73.42,244.99 73.63,246.29 73.84,246.03 74.05,247.96 74.27,248.75 74.48,243.40 74.69,242.83 74.90,247.82 75.11,250.06 75.33,250.44 75.54,244.38 75.75,250.41 75.96,248.89 76.18,249.60 76.39,250.97 76.60,251.85 76.81,243.29 77.03,250.54 77.24,252.25 77.45,246.04 77.66,248.75 77.87,250.00 78.09,252.10 78.30,251.88 78.51,251.85 78.72,253.95 78.94,252.18 79.15,252.36 79.36,251.86 79.57,256.95 79.78,253.51 80.00,255.06 80.21,256.03 80.42,251.96 80.63,254.24 80.85,258.58 81.06,253.82 81.27,260.89 81.48,254.57 81.69,258.15 81.91,260.56 82.12,273.59 82.33,260.94 82.54,259.26 82.76,262.83 82.97,259.55 83.18,264.93 83.39,257.55 83.60,261.97 83.82,261.14 84.03,259.79 84.24,263.89 84.45,266.70 84.67,266.90 84.88,262.52 85.09,264.30 85.30,265.96 85.52,263.67 85.73,266.23 85.94,267.76 86.15,266.26 86.36,265.06 86.58,270.56 86.79,267.30 87.00,271.43 87.21,272.14 87.43,273.70 87.64,273.70 87.85,269.57 88.06,276.40 88.27,271.03 88.49,273.69 88.70,272.38 88.91,272.77 89.12,271.06 89.34,272.73 89.55,274.19 89.76,281.79 89.97,279.07 90.18,282.17 90.40,282.07 90.61,279.04 90.82,279.21 91.03,289.86" fill="none" stroke="#000" stroke-width="0.75"/>
<polyline points="45.82,202.90 46.04,198.55 46.25,196.80 46.46,199.92 46.67,203.69 46.89,208.03 47.10,204.87 47.31,206.29 47.52,217.70 47.73,210.40 47.95,222.63 48.16,210.14 48.37,214.76 48.58,214.08 48.80,220.38 49.01,213.03 49.22,219.86 49.43,212.16 49.64,218.56 49.86,215.01 50.07,217.64 50.28,217.06 50.49,213.88 50.71,218.86 50.92,227.49 51.13,222.84 51.34,224.38 51.56,233.33 51.77,223.15 51.98,219.11 52.19,234.98 52.40,218.23 52.62,221.90 52.83,222.74 53.04,222.99 53.25,223.46 53.47,223.78 53.68,220.47 53.89,222.31 54.10,224.74 54.31,222.96 54.53,228.48 54.74,225.09 54.95,233.67 55.16,231.85 55.38,231.68 55.59,224.17 55.80,226.46 56.01,228.34 56.22,228.84 56.44,229.07 56.65,229.36 56.86,226.88 57.07,226.38 57.29,225.47 57.50,229.97 57.71,228.57 57.92,227.14 58.13,230.08 58.35,231.20 58.56,229.92 58.77,227.40 58.98,234.95 59.20,235.19 59.41,234.26 59.62,229.52 59.83,233.81 60.05,233.06 60.26,232.55 60.47,232.53 60.68,230.85 60.89,238.43 61.11,240.95 61.32,235.94 61.53,229.75 61.74,235.53 61.96,231.69 62.17,231.94 62.38,234.52 62.59,232.04 62.80,234.34 63.02,234.41 63.23,235.35 63.44,239.87 63.65,232.97 63.87,235.76 64.08,237.84 64.29,239.03 64.50,236.78 64.71,237.47 64.93,236.72 65.14,235.05 65.35,242.33 65.56,238.34 65.78,242.70 65.99,242.07 66.20,235.86 66.41,243.37 66.62,239.32 66.84,242.50 67.05,236.55 67.26,240.83 67.47,240.74 67.69,243.12 67.90,241.47 68.11,239.80 68.32,241.44 68.54,240.82 68.75,238.49 68.96,243.59 69.17,251.85 69.38,244.08 69.60,246.60 69.81,246.13 70.02,243.57 70.23,240.78 70.45,247.84 70.66,241.12 70.87,244.51 71.08,250.56 71.29,241.21 71.51,248.65 71.72,245.76 71.93,244.09 72.14,252.44 72.36,247.19 72.57,243.95 72.78,242.73 72.99,245.73 73.20,244.75 73.42,243.83 73.63,244.90 73.84,251.57 74.05,248.57 74.27,250.15 74.48,250.68 74.69,251.45 74.90,247.15 75.11,246.24 75.33,250.83 75.54,245.66 75.75,251.09 75.96,253.84 76.18,259.04 76.39,255.02 76.60,250.41 76.81,248.26 77.03,249.00 77.24,247.60 77.45,260.69 77.66,249.81 77.87,254.29 78.09,256.23 78.30,251.89 78.51,250.57 78.72,252.11 78.94,253.75 79.15,261.01 79.36,251.65 79.57,264.23 79.78,259.96 80.00,255.34 80.21,257.56 80.42,254.14 80.63,258.51 80.85,256.83 81.06,258.58 81.27,256.07 81.48,255.48 81.69,255.72 81.91,270.85 82.12,255.90 82.33,257.44 82.54,256.28 82.76,261.35 82.97,258.30 83.18,261.79 83.39,257.68 83.60,262.31 83.82,259.94 84.03,265.05 84.24,256.23 84.45,263.20 84.67,264.21 84.88,265.95 85.09,260.51 85.30,258.46 85.52,263.05 85.73,264.07 85.94,258.06 86.15,265.96 86.36,266.63 86.58,260.93 86.79,264.86 87.00,266.84 87.21,263.97 87.43,264.52 87.64,261.61 87.85,267.17 88.06,268.64 88.27,265.83 88.49,265.26 88.70,271.59 88.91,261.71 89.12,265.00 89.34,269.16 89.55,273.85 89.76,266.68 89.97,266.60 90.18,266.41 90.40,271.52 90.61,267.79 90.82,267.49 91.03,263.06 91.25,271.26 91.46,269.36 91.67,268.78 91.88,272.79 92.10,286.55 92.31,270.97 92.52,267.13 92.73,274.51 92.94,267.03 93.16,269.94 93.37,265.08 93.58,267.80 93.79,267.66 94.01,275.92 94.22,269.67 94.43,286.47 94.64,275.29 94.85,272.35 95.07,275.96 95.28,269.31 95.49,271.48 95.70,276.41 95.92,280.20 96.13,285.69 96.34,285.11 96.55,270.11 96.76,270.89 96.98,268.72 97.19,273.02 97.40,270.91 97.61,277.69 97.83,275.78 98.04,274.13 98.25,276.56 98.46,274.20 98.67,274.15 98.89,272.16 99.10,273.19 99.31,278.26 99.52,276.68 99.74,273.55 99.95,276.93" fill="none" stroke="#ff0000" stroke-width="0.7"/>
<line x1="53" y1="227.2" x2="105.4" y2="281.3" stroke="#5a78ba" stroke-width="1.1"/>
<rect x="45.4" y="174.7" width="169.79999999999998" height="124.80000000000001" fill="none" stroke="#666" stroke-width="1"/>
<path d="M45.4,291.99h1.8M215.2,291.99h-1.8M45.4,287.59h1.8M215.2,287.59h-1.8M45.4,284.47h1.8M215.2,284.47h-1.8M45.4,282.05h1.8M215.2,282.05h-1.8M45.4,280.08h1.8M215.2,280.08h-1.8M45.4,278.41h1.8M215.2,278.41h-1.8M45.4,276.96h1.8M215.2,276.96h-1.8M45.4,275.68h1.8M215.2,275.68h-1.8M45.4,267.03h1.8M215.2,267.03h-1.8M45.4,262.63h1.8M215.2,262.63h-1.8M45.4,259.51h1.8M215.2,259.51h-1.8M45.4,257.09h1.8M215.2,257.09h-1.8M45.4,255.12h1.8M215.2,255.12h-1.8M45.4,253.45h1.8M215.2,253.45h-1.8M45.4,252.00h1.8M215.2,252.00h-1.8M45.4,250.72h1.8M215.2,250.72h-1.8M45.4,242.07h1.8M215.2,242.07h-1.8M45.4,237.67h1.8M215.2,237.67h-1.8M45.4,234.55h1.8M215.2,234.55h-1.8M45.4,232.13h1.8M215.2,232.13h-1.8M45.4,230.16h1.8M215.2,230.16h-1.8M45.4,228.49h1.8M215.2,228.49h-1.8M45.4,227.04h1.8M215.2,227.04h-1.8M45.4,225.76h1.8M215.2,225.76h-1.8M45.4,217.11h1.8M215.2,217.11h-1.8M45.4,212.71h1.8M215.2,212.71h-1.8M45.4,209.59h1.8M215.2,209.59h-1.8M45.4,207.17h1.8M215.2,207.17h-1.8M45.4,205.20h1.8M215.2,205.20h-1.8M45.4,203.53h1.8M215.2,203.53h-1.8M45.4,202.08h1.8M215.2,202.08h-1.8M45.4,200.80h1.8M215.2,200.80h-1.8M45.4,192.15h1.8M215.2,192.15h-1.8M45.4,187.75h1.8M215.2,187.75h-1.8M45.4,184.63h1.8M215.2,184.63h-1.8M45.4,182.21h1.8M215.2,182.21h-1.8M45.4,180.24h1.8M215.2,180.24h-1.8M45.4,178.57h1.8M215.2,178.57h-1.8M45.4,177.12h1.8M215.2,177.12h-1.8M45.4,175.84h1.8M215.2,175.84h-1.8M45.4,274.54h2.5M215.2,274.54h-2.5M45.4,249.58h2.5M215.2,249.58h-2.5M45.4,224.62h2.5M215.2,224.62h-2.5M45.4,199.66h2.5M215.2,199.66h-2.5M66.62,299.5v-1.5M66.62,174.7v1.5M87.85,299.5v-2.5M87.85,174.7v2.5M109.07,299.5v-1.5M109.07,174.7v1.5M130.30,299.5v-2.5M130.30,174.7v2.5M151.52,299.5v-1.5M151.52,174.7v1.5M172.75,299.5v-2.5M172.75,174.7v2.5M193.97,299.5v-1.5M193.97,174.7v1.5" stroke="#666" stroke-width="0.75" fill="none"/>
<text x="42.699999999999996" y="302.50" font-size="7.5" font-weight="bold" text-anchor="end" stroke="#000" stroke-width="0.15">10<tspan font-size="4.1" dx="0.3" dy="-3.4">1</tspan></text>
<text x="42.699999999999996" y="277.54" font-size="7.5" font-weight="bold" text-anchor="end" stroke="#000" stroke-width="0.15">10<tspan font-size="4.1" dx="0.3" dy="-3.4">2</tspan></text>
<text x="42.699999999999996" y="252.58" font-size="7.5" font-weight="bold" text-anchor="end" stroke="#000" stroke-width="0.15">10<tspan font-size="4.1" dx="0.3" dy="-3.4">3</tspan></text>
<text x="42.699999999999996" y="227.62" font-size="7.5" font-weight="bold" text-anchor="end" stroke="#000" stroke-width="0.15">10<tspan font-size="4.1" dx="0.3" dy="-3.4">4</tspan></text>
<text x="42.699999999999996" y="202.66" font-size="7.5" font-weight="bold" text-anchor="end" stroke="#000" stroke-width="0.15">10<tspan font-size="4.1" dx="0.3" dy="-3.4">5</tspan></text>
<text x="42.699999999999996" y="177.70" font-size="7.5" font-weight="bold" text-anchor="end" stroke="#000" stroke-width="0.15">10<tspan font-size="4.1" dx="0.3" dy="-3.4">6</tspan></text>
<text x="45.40" y="308.70" font-size="7.5" font-weight="bold" text-anchor="middle" stroke="#000" stroke-width="0.15">0</text>
<text x="87.85" y="308.70" font-size="7.5" font-weight="bold" text-anchor="middle" stroke="#000" stroke-width="0.15">10</text>
<text x="130.30" y="308.70" font-size="7.5" font-weight="bold" text-anchor="middle" stroke="#000" stroke-width="0.15">20</text>
<text x="172.75" y="308.70" font-size="7.5" font-weight="bold" text-anchor="middle" stroke="#000" stroke-width="0.15">30</text>
<text x="215.20" y="308.70" font-size="7.5" font-weight="bold" text-anchor="middle" stroke="#000" stroke-width="0.15">40</text>
<text x="107.1" y="322" font-size="7.4" font-weight="bold" fill="#000" text-anchor="start" textLength="47.3" lengthAdjust="spacingAndGlyphs" stroke="#000" stroke-width="0.18">Energy (MeV)</text>
<text transform="translate(21.3,258.7) rotate(-90)" font-size="7.5" font-weight="bold" stroke="#000" stroke-width="0.15" textLength="57.1" lengthAdjust="spacingAndGlyphs">Electrons(/MeV)</text>
<text x="59.9" y="186.8" font-size="7.5" font-weight="bold" fill="#ff0000" stroke="#ff0000" stroke-width="0.08" textLength="80" lengthAdjust="spacingAndGlyphs">10<tspan font-size="5" dx="0.4" dy="-2.8">9</tspan><tspan dy="2.8"> pulse contrast 563 J</tspan></text>
<text x="59.9" y="196" font-size="7.5" font-weight="bold" fill="#000" stroke="#000" stroke-width="0.08" textLength="82.8" lengthAdjust="spacingAndGlyphs">10<tspan font-size="5" dx="0.4" dy="-2.8">11</tspan><tspan dy="2.8"> pulse contrast 530 J</tspan></text>
<text x="103.9" y="269" font-size="5.2" font-weight="bold" fill="#000" text-anchor="start" textLength="34.5" lengthAdjust="spacingAndGlyphs" stroke="#000" stroke-width="0.18">shot 5 (20.9°)</text>
<text x="108.4" y="284.3" font-size="5.2" fill="#777" text-anchor="start" textLength="32.7" lengthAdjust="spacingAndGlyphs">shot 4(20.9°)</text>
<text x="87.6" y="290" font-size="5.2" font-weight="bold" fill="#000" text-anchor="start" textLength="34.3" lengthAdjust="spacingAndGlyphs" stroke="#000" stroke-width="0.18">shot 6 (20.9°)</text>
<text x="238.1" y="164.8" font-size="7.3" font-weight="bold" fill="#000" text-anchor="start" textLength="10" lengthAdjust="spacingAndGlyphs" stroke="#000" stroke-width="0.18">(d)</text>
<polyline points="271,187 271.6,205 272.6,214 275,222.3 322.9,273.8" fill="none" stroke="#7a7a7a" stroke-width="0.8"/>
<polyline points="270.8,193 271.6,210 273,219 318,278" fill="none" stroke="#8a8a8a" stroke-width="0.8" stroke-dasharray="2.2,1.4"/>
<polyline points="270.23,203.88 270.44,203.56 270.65,204.78 270.86,203.58 271.07,213.22 271.29,205.94 271.50,204.37 271.71,205.56 271.93,203.35 272.14,206.85 272.35,208.88 272.56,209.61 272.78,207.95 272.99,208.92 273.20,211.39 273.41,212.98 273.62,214.23 273.84,214.27 274.05,212.14 274.26,214.37 274.48,214.31 274.69,212.05 274.90,215.52 275.11,217.67 275.32,218.66 275.54,215.96 275.75,215.47 275.96,217.74 276.18,220.52 276.39,219.56 276.60,218.39 276.81,222.25 277.03,220.29 277.24,218.94 277.45,220.38 277.66,219.36 277.88,220.90 278.09,216.15 278.30,219.56 278.51,218.83 278.73,219.49 278.94,221.53 279.15,216.89 279.36,222.91 279.57,218.50 279.79,221.43 280.00,222.03 280.21,220.44 280.43,218.74 280.64,220.47 280.85,221.73 281.06,222.75 281.27,223.44 281.49,222.18 281.70,218.75 281.91,226.27 282.12,223.46 282.34,218.92 282.55,222.57 282.76,223.84 282.98,222.40 283.19,226.30 283.40,223.79 283.61,226.34 283.82,225.18 284.04,225.72 284.25,223.02 284.46,225.50 284.68,227.47 284.89,227.15 285.10,225.67 285.31,227.43 285.52,224.80 285.74,226.91 285.95,228.11 286.16,228.64 286.38,229.46 286.59,228.12 286.80,230.87 287.01,234.69 287.22,226.20 287.44,239.04 287.65,225.83 287.86,228.07 288.07,229.84 288.29,233.35 288.50,232.03 288.71,225.85 288.92,236.07 289.14,232.65 289.35,234.97 289.56,231.58 289.77,232.51 289.99,234.61 290.20,229.45 290.41,238.40 290.62,231.36 290.84,232.80 291.05,231.34 291.26,237.06 291.47,229.87 291.69,233.21 291.90,235.85 292.11,239.54 292.32,234.27 292.54,230.56 292.75,236.63 292.96,234.51 293.17,239.80 293.39,240.47 293.60,239.91 293.81,235.73 294.02,239.32 294.24,239.64 294.45,237.92 294.66,240.77 294.87,239.93 295.09,234.82 295.30,237.23 295.51,237.79 295.72,239.21 295.94,237.23 296.15,240.65 296.36,232.24 296.57,233.36 296.79,234.63 297.00,241.47 297.21,236.03 297.42,237.37 297.64,240.83 297.85,237.74 298.06,236.85 298.27,241.35 298.49,238.30 298.70,245.33 298.91,240.21 299.12,243.95 299.34,240.86 299.55,237.34 299.76,241.91 299.97,247.76 300.19,243.33 300.40,244.06 300.61,244.02 300.82,245.99 301.04,241.81 301.25,241.65 301.46,241.46 301.67,244.06 301.89,245.72 302.10,245.77 302.31,241.21 302.52,246.86 302.74,248.06 302.95,243.55 303.16,251.53 303.37,242.93 303.59,246.69 303.80,255.19 304.01,248.49 304.22,251.63 304.44,247.95 304.65,249.40 304.86,250.33 305.07,250.21 305.29,256.42 305.50,254.08 305.71,256.92 305.92,248.73 306.14,254.89 306.35,254.02 306.56,258.07 306.77,253.92 306.99,253.51 307.20,256.42 307.41,256.86 307.62,251.90 307.84,249.94 308.05,257.44 308.26,259.03 308.47,264.95 308.69,259.12 308.90,249.66 309.11,267.98 309.32,262.41 309.54,262.27 309.75,254.67 309.96,252.21 310.18,256.69 310.39,248.03 310.60,262.24 310.81,270.42 311.03,265.20 311.24,262.56" fill="none" stroke="#000" stroke-width="0.75"/>
<path d="M305.07500000000005,249.84V290M309.75,259.712V282M307.625,257.24399999999997V276" stroke="#222" stroke-width="0.8"/>
<polyline points="270.23,209.11 270.44,197.51 270.65,196.76 270.86,196.99 271.07,197.77 271.29,196.45 271.50,197.94 271.71,200.24 271.93,198.51 272.14,200.26 272.35,200.72 272.56,200.25 272.78,202.14 272.99,205.49 273.20,204.20 273.41,204.68 273.62,204.14 273.84,207.56 274.05,204.80 274.26,216.21 274.48,204.01 274.69,206.33 274.90,208.62 275.11,206.83 275.32,209.19 275.54,207.52 275.75,210.22 275.96,209.80 276.18,206.52 276.39,208.23 276.60,212.93 276.81,209.30 277.03,211.67 277.24,211.17 277.45,212.92 277.66,212.42 277.88,212.23 278.09,212.31 278.30,213.47 278.51,221.92 278.73,212.06 278.94,216.53 279.15,215.77 279.36,214.35 279.57,214.72 279.79,216.56 280.00,216.77 280.21,213.47 280.43,215.53 280.64,216.19 280.85,216.87 281.06,215.87 281.27,217.00 281.49,216.78 281.70,216.71 281.91,217.06 282.12,217.55 282.34,217.20 282.55,218.27 282.76,217.50 282.98,219.01 283.19,219.93 283.40,218.70 283.61,219.86 283.82,220.38 284.04,223.43 284.25,220.79 284.46,219.87 284.68,219.49 284.89,227.27 285.10,222.42 285.31,233.13 285.52,219.81 285.74,222.55 285.95,222.58 286.16,220.71 286.38,228.69 286.59,226.10 286.80,222.08 287.01,220.73 287.22,226.52 287.44,221.35 287.65,224.67 287.86,223.52 288.07,226.10 288.29,228.62 288.50,228.75 288.71,223.16 288.92,226.47 289.14,234.80 289.35,225.90 289.56,223.78 289.77,230.52 289.99,228.26 290.20,226.89 290.41,227.61 290.62,225.93 290.84,231.43 291.05,226.63 291.26,225.59 291.47,230.86 291.69,226.73 291.90,223.25 292.11,229.81 292.32,227.95 292.54,232.42 292.75,229.36 292.96,228.82 293.17,227.79 293.39,229.73 293.60,230.98 293.81,229.15 294.02,233.37 294.24,227.31 294.45,226.60 294.66,247.59 294.87,233.22 295.09,231.85 295.30,244.71 295.51,230.82 295.72,230.10 295.94,230.60 296.15,230.59 296.36,231.93 296.57,235.64 296.79,244.80 297.00,232.15 297.21,237.45 297.42,232.86 297.64,234.10 297.85,234.04 298.06,236.45 298.27,235.16 298.49,235.39 298.70,235.86 298.91,233.46 299.12,237.06 299.34,233.39 299.55,241.22 299.76,232.68 299.97,236.83 300.19,230.86 300.40,241.08 300.61,237.83 300.82,236.99 301.04,233.72 301.25,243.32 301.46,231.93 301.67,239.36 301.89,246.86 302.10,240.28 302.31,233.77 302.52,239.33 302.74,241.20 302.95,248.85 303.16,241.37 303.37,235.64 303.59,233.69 303.80,237.63 304.01,238.49 304.22,237.26 304.44,238.79 304.65,245.53 304.86,239.57 305.07,244.41 305.29,235.73 305.50,239.82 305.71,245.47 305.92,243.85 306.14,239.30 306.35,248.87 306.56,245.88 306.77,238.53 306.99,237.33 307.20,239.07 307.41,246.40 307.62,236.45 307.84,246.13 308.05,239.88 308.26,242.19 308.47,245.66 308.69,240.11 308.90,256.91 309.11,240.24 309.32,243.43 309.54,254.67 309.75,246.12 309.96,239.99 310.18,247.98 310.39,241.51 310.60,243.24 310.81,245.08 311.03,248.47 311.24,246.77 311.45,254.80 311.66,251.86 311.88,256.14 312.09,256.18 312.30,251.94 312.51,242.71" fill="none" stroke="#ff0000" stroke-width="0.75"/>
<rect x="269.8" y="175.8" width="170.0" height="123.39999999999998" fill="none" stroke="#555" stroke-width="1"/>
<path d="M269.8,291.77h1.8M439.8,291.77h-1.8M269.8,287.42h1.8M439.8,287.42h-1.8M269.8,284.34h1.8M439.8,284.34h-1.8M269.8,281.95h1.8M439.8,281.95h-1.8M269.8,280.00h1.8M439.8,280.00h-1.8M269.8,278.34h1.8M439.8,278.34h-1.8M269.8,276.91h1.8M439.8,276.91h-1.8M269.8,275.65h1.8M439.8,275.65h-1.8M269.8,267.09h1.8M439.8,267.09h-1.8M269.8,262.74h1.8M439.8,262.74h-1.8M269.8,259.66h1.8M439.8,259.66h-1.8M269.8,257.27h1.8M439.8,257.27h-1.8M269.8,255.32h1.8M439.8,255.32h-1.8M269.8,253.66h1.8M439.8,253.66h-1.8M269.8,252.23h1.8M439.8,252.23h-1.8M269.8,250.97h1.8M439.8,250.97h-1.8M269.8,242.41h1.8M439.8,242.41h-1.8M269.8,238.06h1.8M439.8,238.06h-1.8M269.8,234.98h1.8M439.8,234.98h-1.8M269.8,232.59h1.8M439.8,232.59h-1.8M269.8,230.64h1.8M439.8,230.64h-1.8M269.8,228.98h1.8M439.8,228.98h-1.8M269.8,227.55h1.8M439.8,227.55h-1.8M269.8,226.29h1.8M439.8,226.29h-1.8M269.8,217.73h1.8M439.8,217.73h-1.8M269.8,213.38h1.8M439.8,213.38h-1.8M269.8,210.30h1.8M439.8,210.30h-1.8M269.8,207.91h1.8M439.8,207.91h-1.8M269.8,205.96h1.8M439.8,205.96h-1.8M269.8,204.30h1.8M439.8,204.30h-1.8M269.8,202.87h1.8M439.8,202.87h-1.8M269.8,201.61h1.8M439.8,201.61h-1.8M269.8,193.05h1.8M439.8,193.05h-1.8M269.8,188.70h1.8M439.8,188.70h-1.8M269.8,185.62h1.8M439.8,185.62h-1.8M269.8,183.23h1.8M439.8,183.23h-1.8M269.8,181.28h1.8M439.8,181.28h-1.8M269.8,179.62h1.8M439.8,179.62h-1.8M269.8,178.19h1.8M439.8,178.19h-1.8M269.8,176.93h1.8M439.8,176.93h-1.8M269.8,274.52h2.5M439.8,274.52h-2.5M269.8,249.84h2.5M439.8,249.84h-2.5M269.8,225.16h2.5M439.8,225.16h-2.5M269.8,200.48h2.5M439.8,200.48h-2.5M291.05,299.2v-1.5M291.05,175.8v1.5M312.30,299.2v-2.5M312.30,175.8v2.5M333.55,299.2v-1.5M333.55,175.8v1.5M354.80,299.2v-2.5M354.80,175.8v2.5M376.05,299.2v-1.5M376.05,175.8v1.5M397.30,299.2v-2.5M397.30,175.8v2.5M418.55,299.2v-1.5M418.55,175.8v1.5" stroke="#555" stroke-width="0.75" fill="none"/>
<text x="267.1" y="302.24" font-size="7.6" font-weight="bold" text-anchor="end" stroke="#000" stroke-width="0.15">10<tspan font-size="4.1" dx="0.3" dy="-3.4">1</tspan></text>
<text x="267.1" y="277.56" font-size="7.6" font-weight="bold" text-anchor="end" stroke="#000" stroke-width="0.15">10<tspan font-size="4.1" dx="0.3" dy="-3.4">2</tspan></text>
<text x="267.1" y="252.88" font-size="7.6" font-weight="bold" text-anchor="end" stroke="#000" stroke-width="0.15">10<tspan font-size="4.1" dx="0.3" dy="-3.4">3</tspan></text>
<text x="267.1" y="228.20" font-size="7.6" font-weight="bold" text-anchor="end" stroke="#000" stroke-width="0.15">10<tspan font-size="4.1" dx="0.3" dy="-3.4">4</tspan></text>
<text x="267.1" y="203.52" font-size="7.6" font-weight="bold" text-anchor="end" stroke="#000" stroke-width="0.15">10<tspan font-size="4.1" dx="0.3" dy="-3.4">5</tspan></text>
<text x="267.1" y="178.84" font-size="7.6" font-weight="bold" text-anchor="end" stroke="#000" stroke-width="0.15">10<tspan font-size="4.1" dx="0.3" dy="-3.4">6</tspan></text>
<text x="269.80" y="308.20" font-size="7.6" font-weight="bold" text-anchor="middle" stroke="#000" stroke-width="0.15">0</text>
<text x="312.30" y="308.20" font-size="7.6" font-weight="bold" text-anchor="middle" stroke="#000" stroke-width="0.15">10</text>
<text x="354.80" y="308.20" font-size="7.6" font-weight="bold" text-anchor="middle" stroke="#000" stroke-width="0.15">20</text>
<text x="397.30" y="308.20" font-size="7.6" font-weight="bold" text-anchor="middle" stroke="#000" stroke-width="0.15">30</text>
<text x="439.80" y="308.20" font-size="7.6" font-weight="bold" text-anchor="middle" stroke="#000" stroke-width="0.15">40</text>
<text x="331.2" y="321.6" font-size="7.4" font-weight="bold" fill="#000" text-anchor="start" textLength="47.1" lengthAdjust="spacingAndGlyphs" stroke="#000" stroke-width="0.18">Energy (MeV)</text>
<text transform="translate(244.6,259.2) rotate(-90)" font-size="6.8" font-weight="bold" textLength="58" lengthAdjust="spacingAndGlyphs">Electrons (/MeV)</text>
<text x="285.2" y="186.2" font-size="7.5" font-weight="bold" fill="#ff0000" stroke="#ff0000" stroke-width="0.08" textLength="135" lengthAdjust="spacingAndGlyphs">10<tspan font-size="5" dx="0.4" dy="-2.8">9</tspan><tspan dy="2.8"> pulse contrast 720 J Au open wedge</tspan></text>
<text x="284.8" y="195.6" font-size="7.5" font-weight="bold" fill="#000" stroke="#000" stroke-width="0.08" textLength="137.9" lengthAdjust="spacingAndGlyphs">10<tspan font-size="5" dx="0.4" dy="-2.8">11</tspan><tspan dy="2.8"> pulse contrast 509 J Au open wedge</tspan></text>
<text x="318" y="251" font-size="5.2" font-weight="bold" fill="#000" text-anchor="start" textLength="33.9" lengthAdjust="spacingAndGlyphs" stroke="#000" stroke-width="0.18">shot 7 (20.9°)</text>
<text x="318" y="269" font-size="5.2" font-weight="bold" fill="#000" text-anchor="start" textLength="33.9" lengthAdjust="spacingAndGlyphs" stroke="#000" stroke-width="0.18">shot 8 (20.9°)</text>
<text x="325.4" y="278.3" font-size="5.2" fill="#777" text-anchor="start" textLength="33.8" lengthAdjust="spacingAndGlyphs">shot 5 (20.9°)</text>
<text x="315.1" y="285.7" font-size="5.2" fill="#777" text-anchor="start" textLength="34.6" lengthAdjust="spacingAndGlyphs">shot 6 (20.9°)</text>
</svg>
</body></html>
